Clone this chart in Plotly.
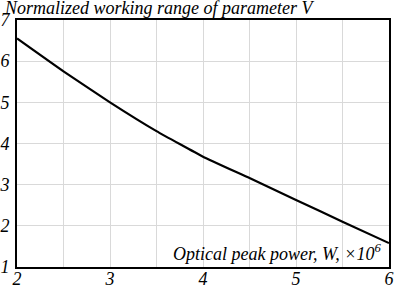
import plotly.graph_objects as go

power = [2, 2.5, 3, 3.5, 4, 4.5, 5, 5.5, 6]
working_range = [6.55, 5.75, 5.0, 4.3, 3.68, 3.16, 2.63, 2.1, 1.58]
x_ticks = [2, 3, 4, 5, 6]
y_ticks = [1, 2, 3, 4, 5, 6, 7]

FONT = "Liberation Serif"
TICKFONT = dict(family=FONT, size=18, color="black", style="italic")

fig = go.Figure()
fig.add_trace(go.Scatter(x=power, y=working_range, mode="lines",
                         line=dict(color="black", width=2.2, shape="spline", smoothing=0.4),
                         showlegend=False, hoverinfo="skip"))

fig.update_layout(
    width=397, height=289,
    margin=dict(l=17, r=8, t=20, b=22),
    paper_bgcolor="white", plot_bgcolor="white",
    font=dict(family=FONT, size=18, color="black"),
    xaxis=dict(range=[2, 6], tickvals=x_ticks, ticktext=[str(v) for v in x_ticks],
               tickfont=TICKFONT, automargin=False, ticklabelstandoff=-6,
               showgrid=True, gridcolor="#d9d9d9", gridwidth=1,
               minor=dict(dtick=0.5, showgrid=True, gridcolor="#d9d9d9", gridwidth=1),
               showline=True, linecolor="black", linewidth=2, mirror=True,
               ticks="", zeroline=False, fixedrange=True),
    yaxis=dict(range=[1, 7], tickvals=y_ticks, ticktext=[str(v) for v in y_ticks],
               tickfont=TICKFONT, automargin=False, ticklabelstandoff=2,
               showgrid=True, gridcolor="#d9d9d9", gridwidth=1,
               showline=True, linecolor="black", linewidth=2, mirror=True,
               ticks="", zeroline=False, fixedrange=True),
    annotations=[
        dict(text="<i>Normalized working range of parameter V</i>", xref="paper", yref="paper",
             x=-0.04, y=1.0, xanchor="left", yanchor="bottom", yshift=0, showarrow=False,
             font=dict(family=FONT, size=18, color="black")),
        dict(text="<i>Optical peak power, W, ×10<sup>6</sup></i>", xref="paper", yref="paper",
             x=0.985, y=0.0, xanchor="right", yanchor="bottom", yshift=1, showarrow=False,
             font=dict(family=FONT, size=18, color="black")),
    ],
)

fig.write_html("out.html", config={"displayModeBar": False},
               post_script="document.body.style.margin='0';document.body.style.overflow='hidden';"
                           "document.documentElement.style.overflow='hidden';")
